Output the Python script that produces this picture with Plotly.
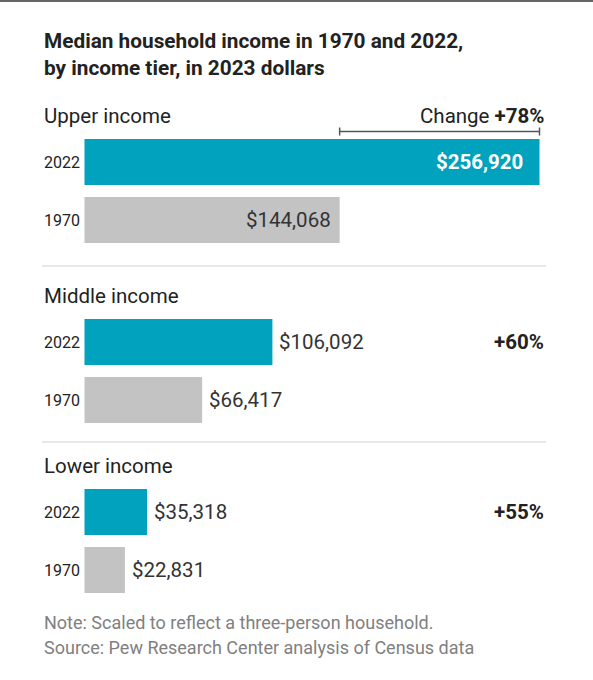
import plotly.graph_objects as go

# data
tiers = ["Upper income", "Middle income", "Lower income"]
years = ["2022", "1970"]
income_2022 = [256920, 106092, 35318]
income_1970 = [144068, 66417, 22831]
change_labels = ["+78%", "+60%", "+55%"]
title_lines = ["Median household income in 1970 and 2022,", "by income tier, in 2023 dollars"]
note_lines = ["Note: Scaled to reflect a three-person household.",
              "Source: Pew Research Center analysis of Census data"]

W, H = 593, 680
FONT = "Roboto"
TEAL = "#00a2bd"
GREY = "#c3c3c3"
TXT = "#222222"

# layout in pixels (y axis runs in pixels, top down)
x0_px, x1_px = 84.5, 539.5
k = (x1_px - x0_px) / max(income_2022)   # px per dollar
left = 42 / W
right = 546 / W
group_label_y = [116, 296, 466]
bar_offsets = [46, 104]
bar_h = 46
sep_y = [266, 442]

fig = go.Figure()

ys_2022 = [g + bar_offsets[0] for g in group_label_y]
ys_1970 = [g + bar_offsets[1] for g in group_label_y]
fig.add_bar(x=income_2022, y=ys_2022, orientation="h", width=bar_h,
            marker=dict(color=TEAL, line=dict(width=0)), hoverinfo="skip")
fig.add_bar(x=income_1970, y=ys_1970, orientation="h", width=bar_h,
            marker=dict(color=GREY, line=dict(width=0)), hoverinfo="skip")

ann = []
# title
for i, t in enumerate(title_lines):
    ann.append(dict(text="<b>" + t + "</b>", x=left, xref="paper", y=41 + 27 * i, yref="y",
                    xanchor="left", yanchor="middle", showarrow=False,
                    font=dict(size=20.8, color=TXT, family=FONT)))

for i, tier in enumerate(tiers):
    ann.append(dict(text=tier, x=left, xref="paper", y=group_label_y[i], yref="y",
                    xanchor="left", yanchor="middle", showarrow=False,
                    font=dict(size=20.5, color=TXT, family=FONT)))
    for yv, lab in zip([ys_2022[i], ys_1970[i]], years):
        ann.append(dict(text=lab, x=left, xref="paper", y=yv, yref="y",
                        xanchor="left", yanchor="middle", showarrow=False,
                        font=dict(size=16, color=TXT, family=FONT)))
    # value labels
    for yv, val, ci in [(ys_2022[i], income_2022[i], 0), (ys_1970[i], income_1970[i], 1)]:
        txt = "${:,}".format(val)
        if i == 0 and ci == 0:
            ann.append(dict(text="<b>" + txt + "</b>", x=val, y=yv, xanchor="right", yanchor="middle",
                            xshift=-15, showarrow=False, font=dict(size=20.5, color="white", family=FONT)))
        elif i == 0:
            ann.append(dict(text=txt, x=val, y=yv, xanchor="right", yanchor="middle",
                            xshift=-7, showarrow=False, font=dict(size=20.5, color="#333333", family=FONT)))
        else:
            ann.append(dict(text=txt, x=val, y=yv, xanchor="left", yanchor="middle",
                            xshift=5, showarrow=False, font=dict(size=20.5, color="#333333", family=FONT)))
    # change labels
    if i == 0:
        ann.append(dict(text="Change <b>" + change_labels[i] + "</b>", x=right, xref="paper",
                        y=group_label_y[i], yref="y", xanchor="right", yanchor="middle", showarrow=False,
                        font=dict(size=20.5, color=TXT, family=FONT)))
    else:
        ann.append(dict(text="<b>" + change_labels[i] + "</b>", x=right, xref="paper",
                        y=ys_2022[i], yref="y", xanchor="right", yanchor="middle", showarrow=False,
                        font=dict(size=20.5, color=TXT, family=FONT)))

for i, t in enumerate(note_lines):
    ann.append(dict(text=t, x=left, xref="paper", y=622 + 25 * i, yref="y",
                    xanchor="left", yanchor="middle", showarrow=False,
                    font=dict(size=18, color="#808080", family=FONT)))

shapes = []
# top rule
shapes.append(dict(type="line", xref="paper", yref="y", x0=0, x1=1, y0=1, y1=1,
                   line=dict(color="#666666", width=2)))
for s in sep_y:
    shapes.append(dict(type="line", xref="paper", yref="y", x0=left, x1=right, y0=s, y1=s,
                       line=dict(color="#e0e0e0", width=1.5)))
# change bracket for upper tier
by = 131.5
shapes.append(dict(type="line", x0=income_1970[0], x1=income_2022[0], y0=by, y1=by,
                   line=dict(color="#555555", width=1.5)))
for xv in [income_1970[0], income_2022[0]]:
    shapes.append(dict(type="line", x0=xv, x1=xv, y0=by - 4, y1=by + 4,
                       line=dict(color="#555555", width=1.5)))

fig.update_layout(
    width=W, height=H, autosize=False,
    margin=dict(l=0, r=0, t=0, b=0),
    paper_bgcolor="white", plot_bgcolor="white",
    showlegend=False, barmode="overlay",
    xaxis=dict(range=[-x0_px / k, (W - x0_px) / k], visible=False, fixedrange=True),
    yaxis=dict(range=[H, 0], visible=False, fixedrange=True),
    annotations=ann, shapes=shapes,
)

# page body has a default 8px margin; drop it so the chart sits at the window edge
fig.write_html("out.html", config={"displayModeBar": False},
               post_script="document.body.style.margin='0';")
